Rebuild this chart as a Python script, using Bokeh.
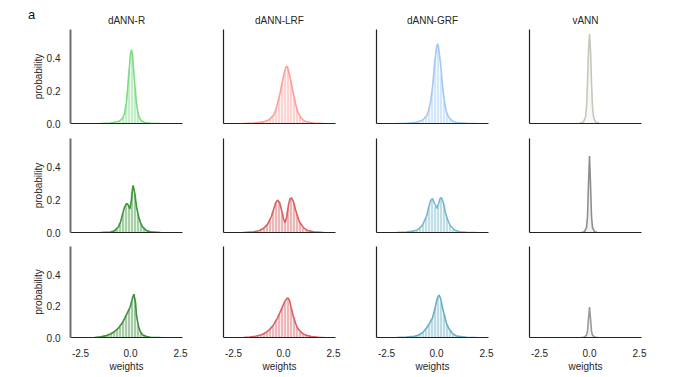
from bokeh.plotting import figure
from bokeh.layouts import gridplot, row
from bokeh.models import Range1d, FixedTicker, NumeralTickFormatter, Div
from bokeh.embed import file_html
from bokeh.resources import INLINE

panel_letter = "a"
titles = ["dANN-R", "dANN-LRF", "dANN-GRF", "vANN"]
x_ticks = [-2.5, 0.0, 2.5]
y_ticks = [0.0, 0.2, 0.4]

# ---------------- row 1 ----------------
r1_R_x = [-1.5, -1.0, -0.6, -0.4, -0.3, -0.2, -0.1, 0.0, 0.05, 0.1, 0.2, 0.3, 0.4, 0.5, 0.7, 1.0, 1.5]
r1_R_y = [0.0, 0.003, 0.012, 0.03, 0.06, 0.13, 0.28, 0.43, 0.454, 0.42, 0.26, 0.12, 0.05, 0.022, 0.006, 0.002, 0.0]
r1_R_hist_lo = -0.6
r1_R_hist = [0.015, 0.04, 0.12, 0.33, 0.44, 0.22, 0.07, 0.02]

r1_LRF_x = [-2.0, -1.5, -1.0, -0.7, -0.5, -0.4, -0.3, -0.2, -0.1, 0.0, 0.1, 0.15, 0.2, 0.3, 0.4, 0.5, 0.6, 0.7, 0.9, 1.1, 1.5, 2.0]
r1_LRF_y = [0.0, 0.003, 0.01, 0.025, 0.05, 0.08, 0.12, 0.17, 0.23, 0.29, 0.34, 0.353, 0.345, 0.3, 0.24, 0.18, 0.12, 0.075, 0.03, 0.012, 0.003, 0.0]
r1_LRF_hist_lo = -1.05
r1_LRF_hist = [0.012, 0.02, 0.03, 0.05, 0.09, 0.16, 0.25, 0.32, 0.35, 0.26, 0.16, 0.085, 0.045, 0.02, 0.01]

r1_GRF_x = [-2.0, -1.5, -1.0, -0.7, -0.5, -0.4, -0.3, -0.2, -0.1, 0.0, 0.05, 0.1, 0.2, 0.3, 0.4, 0.5, 0.6, 0.8, 1.0, 1.5, 2.0]
r1_GRF_y = [0.0, 0.002, 0.008, 0.02, 0.045, 0.075, 0.13, 0.22, 0.36, 0.47, 0.49, 0.47, 0.37, 0.23, 0.13, 0.07, 0.04, 0.015, 0.006, 0.002, 0.0]
r1_GRF_hist_lo = -0.9
r1_GRF_hist = [0.01, 0.02, 0.04, 0.09, 0.2, 0.4, 0.48, 0.3, 0.13, 0.06, 0.03, 0.015]

r1_v_x = [-0.5, -0.3, -0.2, -0.15, -0.1, -0.05, 0.0, 0.05, 0.1, 0.15, 0.2, 0.3, 0.5]
r1_v_y = [0.0, 0.01, 0.04, 0.1, 0.25, 0.45, 0.55, 0.45, 0.25, 0.1, 0.04, 0.01, 0.0]
r1_v_hist_lo = -0.3
r1_v_hist = [0.01, 0.02, 0.04, 0.08, 0.2, 0.5, 0.5, 0.2, 0.08, 0.04, 0.02, 0.01]

# ---------------- row 2 ----------------
r2_R_x = [-1.5, -1.0, -0.8, -0.6, -0.5, -0.4, -0.3, -0.2, -0.15, -0.1, -0.03, 0.05, 0.1, 0.13, 0.2, 0.3, 0.4, 0.5, 0.6, 0.8, 1.0, 1.5]
r2_R_y = [0.0, 0.003, 0.01, 0.035, 0.065, 0.11, 0.155, 0.177, 0.176, 0.165, 0.145, 0.2, 0.27, 0.289, 0.25, 0.16, 0.1, 0.06, 0.035, 0.012, 0.004, 0.0]
r2_R_hist_lo = -0.9
r2_R_hist = [0.008, 0.025, 0.06, 0.12, 0.175, 0.16, 0.25, 0.24, 0.11, 0.055, 0.03, 0.012, 0.005]

r2_LRF_x = [-2.0, -1.5, -1.2, -1.0, -0.8, -0.6, -0.5, -0.4, -0.3, -0.2, -0.1, 0.0, 0.08, 0.15, 0.25, 0.32, 0.4, 0.5, 0.6, 0.7, 0.8, 1.0, 1.2, 1.5, 2.0]
r2_LRF_y = [0.0, 0.004, 0.012, 0.025, 0.05, 0.1, 0.14, 0.18, 0.199, 0.185, 0.14, 0.085, 0.06, 0.09, 0.17, 0.205, 0.213, 0.19, 0.14, 0.1, 0.065, 0.03, 0.012, 0.004, 0.0]
r2_LRF_hist_lo = -1.35
r2_LRF_hist = [0.008, 0.015, 0.028, 0.045, 0.08, 0.13, 0.19, 0.19, 0.12, 0.065, 0.15, 0.21, 0.18, 0.11, 0.06, 0.03, 0.015, 0.008]

r2_GRF_x = [-2.0, -1.5, -1.1, -0.9, -0.7, -0.5, -0.4, -0.3, -0.2, -0.1, 0.02, 0.1, 0.18, 0.25, 0.35, 0.45, 0.55, 0.7, 0.9, 1.15, 1.5, 2.0]
r2_GRF_y = [0.0, 0.003, 0.01, 0.02, 0.045, 0.1, 0.15, 0.195, 0.209, 0.18, 0.148, 0.175, 0.21, 0.213, 0.18, 0.12, 0.08, 0.04, 0.015, 0.005, 0.002, 0.0]
r2_GRF_hist_lo = -1.2
r2_GRF_hist = [0.01, 0.015, 0.03, 0.05, 0.09, 0.16, 0.205, 0.16, 0.17, 0.21, 0.17, 0.09, 0.045, 0.02, 0.01, 0.005]

r2_v_x = [-0.4, -0.25, -0.15, -0.1, -0.05, 0.0, 0.05, 0.1, 0.15, 0.25, 0.4]
r2_v_y = [0.0, 0.005, 0.03, 0.1, 0.3, 0.47, 0.3, 0.1, 0.03, 0.005, 0.0]
r2_v_hist_lo = -0.2
r2_v_hist = [0.01, 0.04, 0.12, 0.4, 0.4, 0.12, 0.04, 0.01]

# ---------------- row 3 ----------------
r3_R_x = [-1.8, -1.5, -1.2, -1.0, -0.8, -0.6, -0.4, -0.3, -0.2, -0.1, 0.0, 0.1, 0.17, 0.25, 0.3, 0.4, 0.5, 0.6, 0.8, 1.0, 1.5]
r3_R_y = [0.0, 0.005, 0.012, 0.022, 0.038, 0.06, 0.095, 0.12, 0.145, 0.17, 0.2, 0.25, 0.275, 0.22, 0.14, 0.07, 0.035, 0.018, 0.006, 0.002, 0.0]
r3_R_hist_lo = -1.65
r3_R_hist = [0.006, 0.01, 0.012, 0.018, 0.024, 0.035, 0.05, 0.07, 0.1, 0.14, 0.18, 0.23, 0.25, 0.08, 0.035, 0.015, 0.006]

r3_LRF_x = [-2.0, -1.7, -1.4, -1.1, -0.9, -0.7, -0.5, -0.3, -0.1, 0.05, 0.15, 0.22, 0.3, 0.4, 0.5, 0.6, 0.7, 0.9, 1.1, 1.4, 1.75, 2.0]
r3_LRF_y = [0.0, 0.003, 0.008, 0.018, 0.03, 0.05, 0.08, 0.125, 0.18, 0.225, 0.245, 0.252, 0.235, 0.18, 0.13, 0.09, 0.06, 0.03, 0.015, 0.006, 0.002, 0.0]
r3_LRF_hist_lo = -1.8
r3_LRF_hist = [0.003, 0.005, 0.008, 0.012, 0.017, 0.025, 0.035, 0.05, 0.075, 0.11, 0.15, 0.19,
               0.23, 0.245, 0.19, 0.13, 0.07, 0.04, 0.022, 0.014, 0.009, 0.006, 0.003, 0.002]

r3_GRF_x = [-2.0, -1.5, -1.1, -0.9, -0.7, -0.5, -0.35, -0.2, -0.1, 0.0, 0.08, 0.13, 0.2, 0.3, 0.4, 0.5, 0.6, 0.8, 1.0, 1.5, 2.0]
r3_GRF_y = [0.0, 0.003, 0.008, 0.015, 0.03, 0.06, 0.09, 0.125, 0.17, 0.23, 0.262, 0.269, 0.25, 0.19, 0.14, 0.09, 0.06, 0.025, 0.01, 0.002, 0.0]
r3_GRF_hist_lo = -1.05
r3_GRF_hist = [0.012, 0.02, 0.032, 0.055, 0.085, 0.12, 0.19, 0.255, 0.225, 0.15, 0.08, 0.045, 0.022, 0.012, 0.006]

r3_v_x = [-0.4, -0.25, -0.15, -0.1, -0.05, 0.0, 0.05, 0.1, 0.15, 0.25, 0.4]
r3_v_y = [0.0, 0.003, 0.015, 0.04, 0.12, 0.193, 0.12, 0.04, 0.015, 0.003, 0.0]
r3_v_hist_lo = -0.2
r3_v_hist = [0.005, 0.015, 0.05, 0.16, 0.16, 0.05, 0.015, 0.005]

wide_bin = 0.15
narrow_bin = 0.05

colors = [
    ["#7fdc86", "#ff9e9a", "#a1c9f4", "#c6c6bb"],
    ["#3b963b", "#d9605f", "#78b8cb", "#8e8e8e"],
    ["#3f8f3f", "#da6166", "#6aafc3", "#9a9a9a"],
]

panels = [
    [(r1_R_x, r1_R_y, r1_R_hist_lo, wide_bin, r1_R_hist),
     (r1_LRF_x, r1_LRF_y, r1_LRF_hist_lo, wide_bin, r1_LRF_hist),
     (r1_GRF_x, r1_GRF_y, r1_GRF_hist_lo, wide_bin, r1_GRF_hist),
     (r1_v_x, r1_v_y, r1_v_hist_lo, narrow_bin, r1_v_hist)],
    [(r2_R_x, r2_R_y, r2_R_hist_lo, wide_bin, r2_R_hist),
     (r2_LRF_x, r2_LRF_y, r2_LRF_hist_lo, wide_bin, r2_LRF_hist),
     (r2_GRF_x, r2_GRF_y, r2_GRF_hist_lo, wide_bin, r2_GRF_hist),
     (r2_v_x, r2_v_y, r2_v_hist_lo, narrow_bin, r2_v_hist)],
    [(r3_R_x, r3_R_y, r3_R_hist_lo, wide_bin, r3_R_hist),
     (r3_LRF_x, r3_LRF_y, r3_LRF_hist_lo, wide_bin, r3_LRF_hist),
     (r3_GRF_x, r3_GRF_y, r3_GRF_hist_lo, wide_bin, r3_GRF_hist),
     (r3_v_x, r3_v_y, r3_v_hist_lo, narrow_bin, r3_v_hist)],
]

FONT = "Liberation Sans"
TXT = "#262626"
FRAME_W, FRAME_H = 112, 94

grid = []
for r in range(3):
    row_figs = []
    for c in range(4):
        left = 70 if c == 0 else 21
        right = 20
        top = [29, 8, 7][r]
        bottom = [7, 7, 34][r]
        p = figure(width=left + FRAME_W + right, height=top + FRAME_H + bottom,
                   x_range=Range1d(-3.0, 2.6), y_range=Range1d(0, 0.578),
                   output_backend="svg", toolbar_location=None,
                   min_border_left=left, min_border_right=right,
                   min_border_top=top, min_border_bottom=bottom,
                   title=titles[c] if r == 0 else None)
        p.outline_line_color = None
        p.grid.visible = False
        if r == 0:
            p.title.align = "center"
            p.title.text_font = FONT
            p.title.text_font_size = "10px"
            p.title.text_font_style = "normal"
            p.title.text_color = TXT
            p.title.standoff = 7

        xs, ys, lo, bw, hist = panels[r][c]
        col = colors[r][c]
        lefts = [lo + i * bw for i in range(len(hist))]
        rights = [lo + (i + 1) * bw for i in range(len(hist))]
        p.quad(left=lefts, right=rights, top=hist, bottom=0,
               fill_color=col, fill_alpha=0.45, line_color="white", line_width=0.6)
        p.line(xs, ys, line_color=col, line_width=1.6)

        xa = p.xaxis[0]
        ya = p.yaxis[0]
        for ax in (xa, ya):
            ax.major_tick_line_color = None
            ax.minor_tick_line_color = None
            ax.major_label_text_font = FONT
            ax.major_label_text_font_size = "10px"
            ax.major_label_text_color = TXT
            ax.axis_label_text_font = FONT
            ax.axis_label_text_font_size = "10px"
            ax.axis_label_text_font_style = "normal"
            ax.axis_label_text_color = TXT
            ax.axis_line_color = "#222222"
            ax.axis_line_width = 1.2
            ax.formatter = NumeralTickFormatter(format="0.0")
        if r == 2:
            xa.ticker = FixedTicker(ticks=x_ticks)
            xa.major_label_standoff = 5
            xa.axis_label = "weights"
            xa.axis_label_standoff = 1
        else:
            xa.ticker = FixedTicker(ticks=[])
            xa.major_label_standoff = 0
        if c == 0:
            ya.ticker = FixedTicker(ticks=y_ticks)
            ya.major_label_standoff = 4
            ya.axis_label = "probability"
            ya.axis_label_standoff = 0
            ya.axis_line_color = "#6e6e6e"
            ya.axis_line_width = 2
        else:
            ya.ticker = FixedTicker(ticks=[])
            ya.major_label_standoff = 0
        row_figs.append(p)
    grid.append(row_figs)

letter = Div(text=panel_letter, width=40, height=24, margin=0,
             styles={"position": "absolute", "left": "0px", "top": "0px", "z-index": "10",
                     "font-family": FONT, "font-size": "13px", "color": "#111111",
                     "padding-left": "28px", "padding-top": "6px",
                     "box-sizing": "border-box", "white-space": "nowrap"})

grid_layout = gridplot(grid, toolbar_location=None)
layout = row(letter, grid_layout)
open("out.html", "w").write(file_html(layout, INLINE))
